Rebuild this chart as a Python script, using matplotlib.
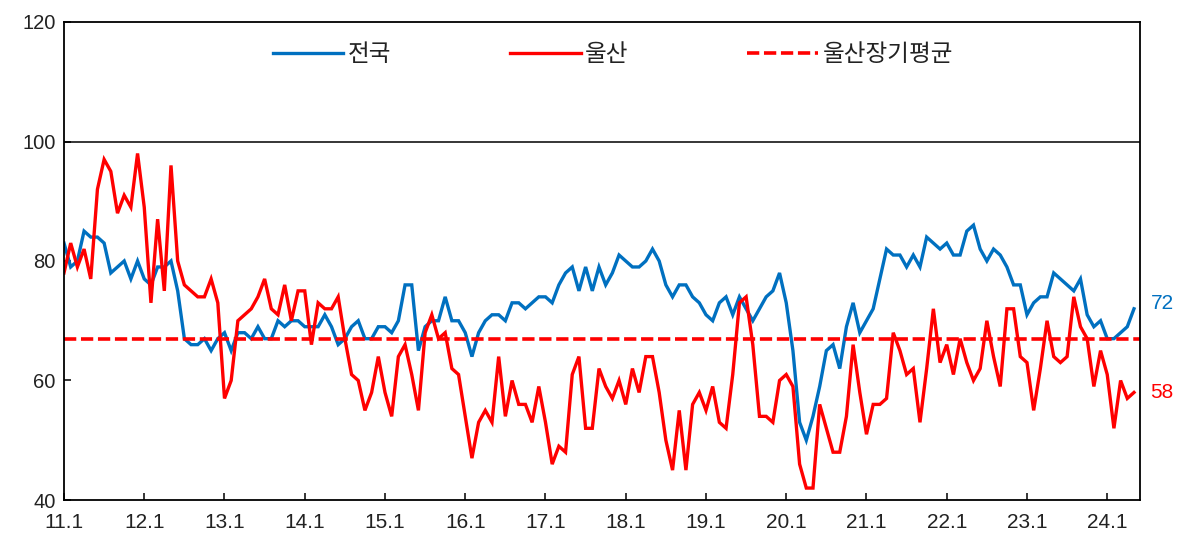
import matplotlib
matplotlib.use("Agg")
import matplotlib.pyplot as plt
import numpy as np

plt.rcParams['font.family'] = ['Liberation Sans', 'Noto Sans CJK KR', 'DejaVu Sans']

# monthly index, 2011.1 ~ 2024.5
nation = [83, 79, 80, 85, 84, 84, 83, 78, 79, 80, 77, 80,
          77, 76, 79, 79, 80, 75, 67, 66, 66, 67, 65, 67,
          68, 65, 68, 68, 67, 69, 67, 67, 70, 69, 70, 70,
          69, 69, 69, 71, 69, 66, 67, 69, 70, 67, 67, 69,
          69, 68, 70, 76, 76, 65, 69, 70, 70, 74, 70, 70,
          68, 64, 68, 70, 71, 71, 70, 73, 73, 72, 73, 74,
          74, 73, 76, 78, 79, 75, 79, 75, 79, 76, 78, 81,
          80, 79, 79, 80, 82, 80, 76, 74, 76, 76, 74, 73,
          71, 70, 73, 74, 71, 74, 72, 70, 72, 74, 75, 78,
          73, 65, 53, 50, 54, 59, 65, 66, 62, 69, 73, 68,
          70, 72, 77, 82, 81, 81, 79, 81, 79, 84, 83, 82,
          83, 81, 81, 85, 86, 82, 80, 82, 81, 79, 76, 76,
          71, 73, 74, 74, 78, 77, 76, 75, 77, 71, 69, 70,
          67, 67, 68, 69, 72]
ulsan = [78, 83, 79, 82, 77, 92, 97, 95, 88, 91, 89, 98,
         89, 73, 87, 75, 96, 80, 76, 75, 74, 74, 77, 73,
         57, 60, 70, 71, 72, 74, 77, 72, 71, 76, 70, 75,
         75, 66, 73, 72, 72, 74, 67, 61, 60, 55, 58, 64,
         58, 54, 64, 66, 61, 55, 68, 71, 67, 68, 62, 61,
         54, 47, 53, 55, 53, 64, 54, 60, 56, 56, 53, 59,
         53, 46, 49, 48, 61, 64, 52, 52, 62, 59, 57, 60,
         56, 62, 58, 64, 64, 58, 50, 45, 55, 45, 56, 58,
         55, 59, 53, 52, 61, 73, 74, 66, 54, 54, 53, 60,
         61, 59, 46, 42, 42, 56, 52, 48, 48, 54, 66, 58,
         51, 56, 56, 57, 68, 65, 61, 62, 53, 62, 72, 63,
         66, 61, 67, 63, 60, 62, 70, 64, 59, 72, 72, 64,
         63, 55, 62, 70, 64, 63, 64, 74, 69, 67, 59, 65,
         61, 52, 60, 57, 58]
ulsan_avg = 67
years = list(range(11, 25))
tick_labels = [f"{y}.1" for y in years]

blue = "#0070C0"
red = "#FF0000"

x = np.arange(len(nation))

fig = plt.figure(figsize=(11.84, 5.4), dpi=100)
ax = fig.add_axes([64/1184, 40/540, 1076/1184, 478/540])

ax.plot(x, nation, color=blue, lw=2.4, label="전국", solid_joinstyle="miter")
ax.plot(x, ulsan, color=red, lw=2.4, label="울산", solid_joinstyle="miter")
ax.axhline(ulsan_avg, color=red, lw=2.6, ls=(0, (3.4, 1.3)), label="울산장기평균")
ax.axhline(100, color="black", lw=1.1)

ax.set_xlim(0, 160.9)
ax.set_ylim(40, 120)
ax.set_yticks([40, 60, 80, 100, 120])
ax.set_xticks([12 * k for k in range(len(years))])
ax.set_xticklabels(tick_labels)
ax.tick_params(axis="both", direction="in", length=5, width=1.1, labelsize=14.5,
               colors="black", labelcolor="#222222")
ax.tick_params(axis="x", pad=9, labelsize=15)
ax.tick_params(axis="y", pad=6)
for s in ax.spines.values():
    s.set_linewidth(1.3)
    s.set_color("black")

ax.annotate(str(nation[-1]), xy=(x[-1], nation[-1]), xytext=(12, 4),
            textcoords="offset points", ha="left", va="center",
            color=blue, fontsize=15)
ax.annotate(str(ulsan[-1]), xy=(x[-1], ulsan[-1]), xytext=(12, 0),
            textcoords="offset points", ha="left", va="center",
            color=red, fontsize=15)

ax.legend(loc="center", bbox_to_anchor=(0.51, 0.93), ncol=3, frameon=False,
          fontsize=17, handlelength=3.0, handletextpad=0.2, columnspacing=5.0,
          labelcolor="#222222")

fig.savefig("out.png", dpi=100)
